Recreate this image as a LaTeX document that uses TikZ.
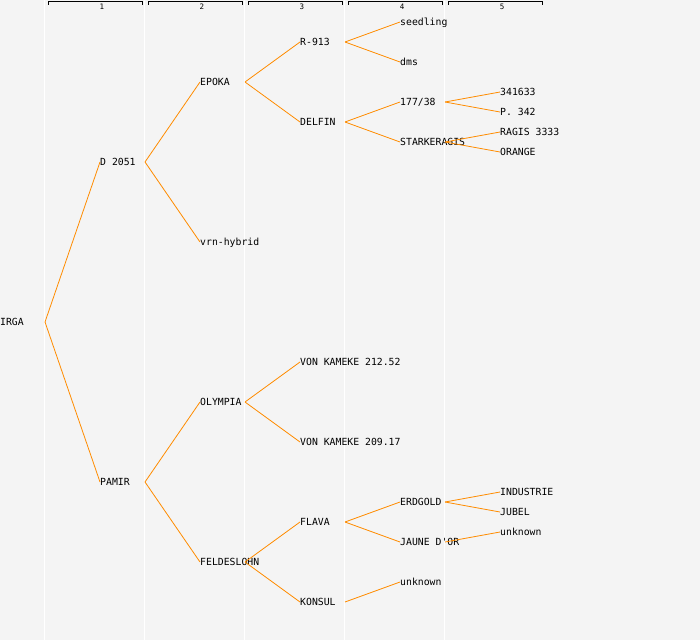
\documentclass[tikz,border=0pt]{standalone}
\usepackage{fontspec}
\setmonofont{DejaVu Sans Mono}
\definecolor{bgcol}{HTML}{F4F4F4}
\definecolor{edgecol}{HTML}{FF8C00}

\tikzset{
  taxon/.style={anchor=west, inner sep=0pt, font=\ttfamily\fontsize{9.8}{10}\selectfont,
    text height=7pt, text depth=0pt},
  branch/.style={draw=edgecol, line width=0.8pt},
  rankrule/.style={draw=white, line width=1.5pt},
  rankbrace/.style={draw=black, line width=0.9pt},
  ranklabel/.style={inner sep=0pt, font=\ttfamily\fontsize{7.5}{8}\selectfont}
}

\begin{document}
\begin{tikzpicture}[x=1pt, y=-1pt]
  % background and rank columns
  \fill[bgcol] (0,0) rectangle (700,640);
  \useasboundingbox (0,0) rectangle (700,640);
  \foreach \i in {1,...,5} {
    \draw[rankrule] (\i*100-55.5,0) -- (\i*100-55.5,640);
    \draw[rankbrace] (\i*100-52,4.5) |- (\i*100+42,1.5) -- (\i*100+42,4.5);
    \node[ranklabel] (rank\i) at (\i*100+2,7) {\i};
  }

  % taxa
  \node[taxon] (irga)     at (0,322)   {IRGA};
  \node[taxon] (d2051)    at (100,162) {D 2051};
  \node[taxon] (pamir)    at (100,482) {PAMIR};
  \node[taxon] (epoka)    at (200,82)  {EPOKA};
  \node[taxon] (vrn)      at (200,242) {vrn-hybrid};
  \node[taxon] (olympia)  at (200,402) {OLYMPIA};
  \node[taxon] (feld)     at (200,562) {FELDESLOHN};
  \node[taxon] (r913)     at (300,42)  {R-913};
  \node[taxon] (delfin)   at (300,122) {DELFIN};
  \node[taxon] (vk212)    at (300,362) {VON KAMEKE 212.52};
  \node[taxon] (vk209)    at (300,442) {VON KAMEKE 209.17};
  \node[taxon] (flava)    at (300,522) {FLAVA};
  \node[taxon] (konsul)   at (300,602) {KONSUL};
  \node[taxon] (seedling) at (400,22)  {seedling};
  \node[taxon] (dms)      at (400,62)  {dms};
  \node[taxon] (s17738)   at (400,102) {177/38};
  \node[taxon] (stark)    at (400,142) {STARKERAGIS};
  \node[taxon] (erdgold)  at (400,502) {ERDGOLD};
  \node[taxon] (jaune)    at (400,542) {JAUNE D'OR};
  \node[taxon] (unkA)     at (400,582) {unknown};
  \node[taxon] (s341633)  at (500,92)  {341633};
  \node[taxon] (p342)     at (500,112) {P. 342};
  \node[taxon] (ragis)    at (500,132) {RAGIS 3333};
  \node[taxon] (orange)   at (500,152) {ORANGE};
  \node[taxon] (indus)    at (500,492) {INDUSTRIE};
  \node[taxon] (jubel)    at (500,512) {JUBEL};
  \node[taxon] (unkB)     at (500,532) {unknown};

  % pedigree branches
  \foreach \p/\c in {irga/d2051, irga/pamir,
      d2051/epoka, d2051/vrn, pamir/olympia, pamir/feld,
      epoka/r913, epoka/delfin, olympia/vk212, olympia/vk209,
      feld/flava, feld/konsul,
      r913/seedling, r913/dms, delfin/s17738, delfin/stark,
      flava/erdgold, flava/jaune, konsul/unkA,
      s17738/s341633, s17738/p342, stark/ragis, stark/orange,
      erdgold/indus, erdgold/jubel, jaune/unkB}
    \draw[branch] ([xshift=45pt]\p.west) -- (\c.west);
\end{tikzpicture}
\end{document}
